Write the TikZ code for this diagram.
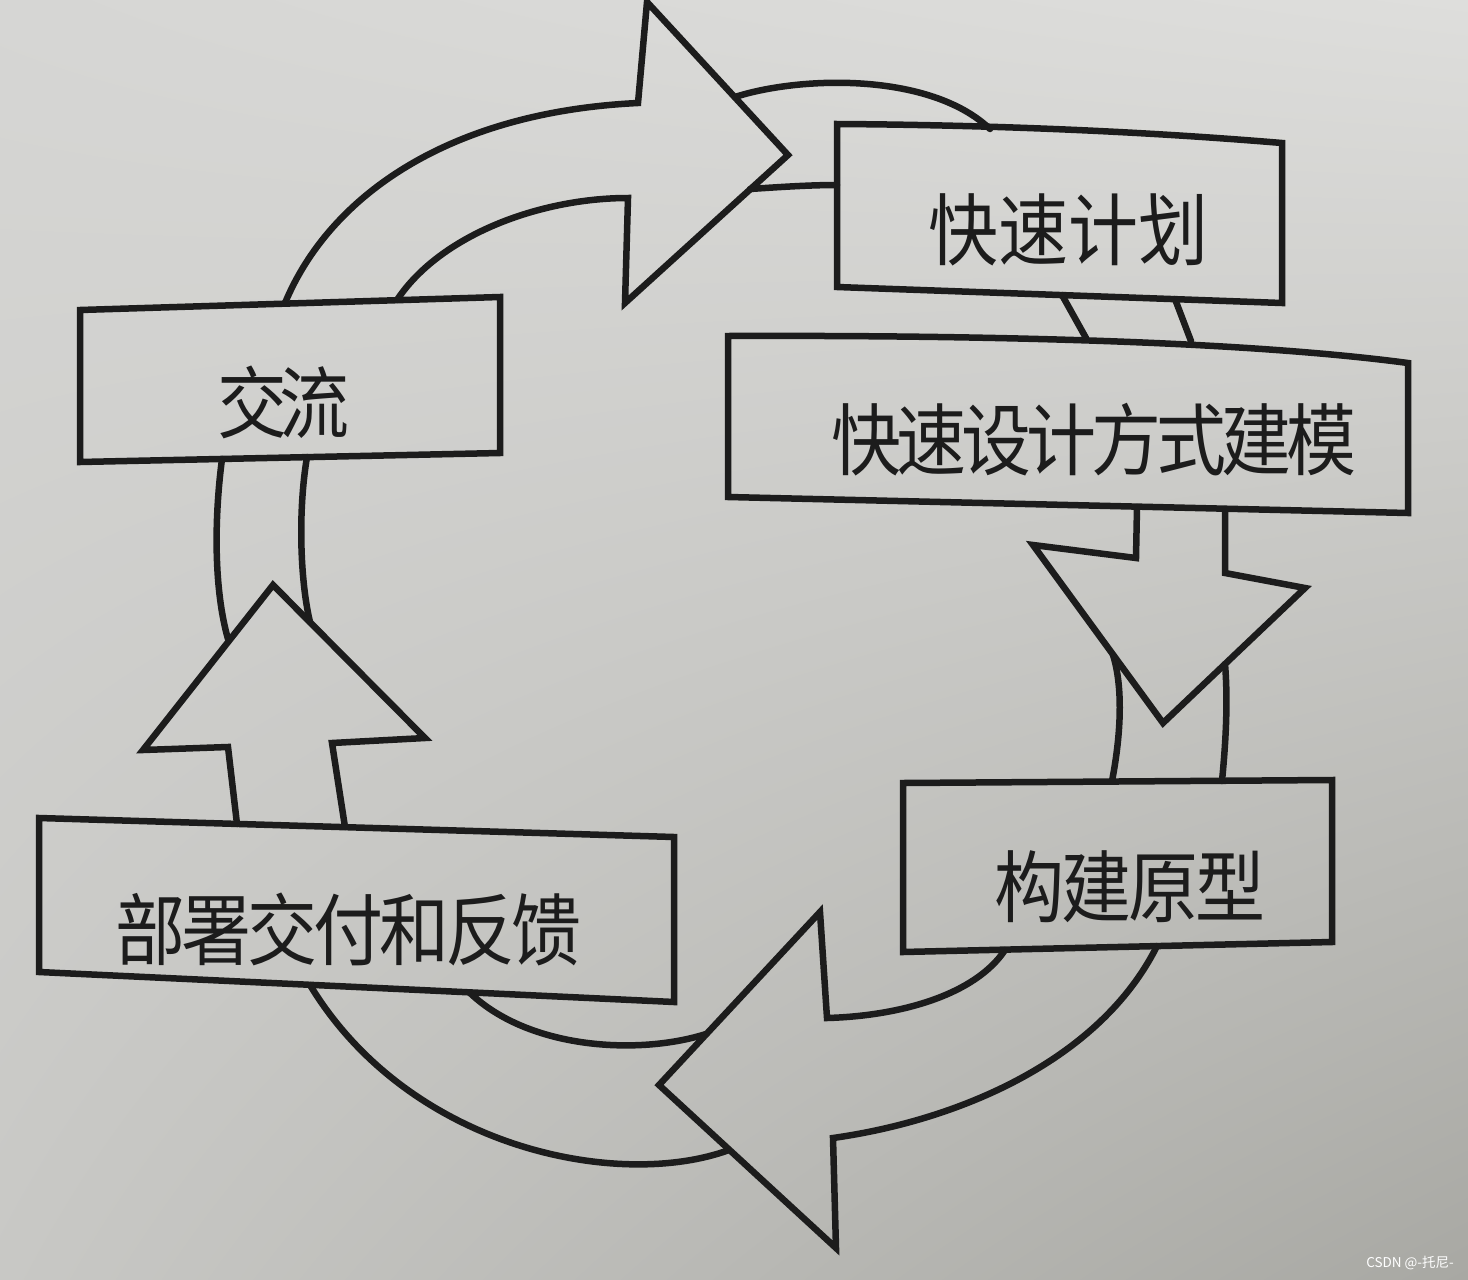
\documentclass[tikz,border=0pt]{standalone}
\usepackage{fontspec}
\usepackage{graphicx}
\usetikzlibrary{shadings}
\newfontfamily\cjk{Noto Sans CJK SC}
\definecolor{ink}{RGB}{28,28,28}
\definecolor{bgA}{RGB}{214,214,212}
\definecolor{bgB}{RGB}{222,222,220}
\definecolor{bgC}{RGB}{200,200,197}
\definecolor{bgD}{RGB}{168,168,163}
\begin{document}
\begin{tikzpicture}[x=1pt,y=-1pt,
  ln/.style={line width=6.5pt, draw=ink, line join=miter, line cap=round},
  boxline/.style={line width=6.5pt, draw=ink, line join=miter},
  lbl/.style={inner sep=0pt, text=ink, font=\cjk\fontsize{70}{70}\selectfont},
  wmark/.style={inner sep=0pt, text=white, font=\cjk\fontsize{13.5}{14}\selectfont}]
\useasboundingbox (0,0) rectangle (1468,1280);
\shade[upper left=bgA, upper right=bgB, lower left=bgC, lower right=bgD] (0,0) rectangle (1468,1280);

% ---- boxes ----
\draw[boxline] (837,124) .. controls (1000,125) and (1150,132) .. (1282,143) -- (1282,303) -- (837,287) -- cycle;
\draw[boxline] (728,336) .. controls (1000,335) and (1250,342) .. (1408,363) -- (1408,513) -- (728,497) -- cycle;
\draw[boxline] (903,783) -- (1332,780) -- (1332,942) -- (903,952) -- cycle;
\draw[boxline] (39,818) -- (674,837) -- (674,1002) -- (39,972) -- cycle;
\draw[boxline] (80,310) -- (500,297) -- (500,453) -- (80,462) -- cycle;

% ---- labels ----
\node[lbl] (plan) at (1068,230) {\scalebox{1}[1.12]{快速计划}};
\node[lbl] (design) at (1094,440) {\scalebox{1}[1.12]{快\kern-5pt速\kern-5pt设\kern-5pt计\kern-5pt方\kern-5pt式\kern-5pt建\kern-5pt模}};
\node[lbl] (proto) at (1130,887) {\scalebox{1}[1.12]{构\kern-3pt建\kern-3pt原\kern-3pt型}};
\node[lbl] (deploy) at (348,929) {\scalebox{1}[1.12]{部\kern-4pt署\kern-4pt交\kern-4pt付\kern-4pt和\kern-4pt反\kern-4pt馈}};
\node[lbl] (comm) at (283,402) {\scalebox{1}[1.12]{交\kern-8pt流}};

% ---- top arrow (交流 -> 快速计划) ----
\draw[ln] (285,303) .. controls (330,195) and (450,112) .. (638,103)
  -- (647,2) -- (788,155) -- (625,303) -- (628,198)
  .. controls (540,198) and (440,235) .. (397,300);
\draw[ln] (735,97) .. controls (800,76) and (930,72) .. (990,129);
\draw[ln] (750,189) .. controls (780,187) and (810,185) .. (837,185);

% ---- band between the two upper boxes ----
\draw[ln] (1062,295) -- (1086,338);
\draw[ln] (1175,299) -- (1191,341);

% ---- right arrow (down) ----
\draw[ln] (1137,507) -- (1136,558) -- (1033,545) -- (1163,723) -- (1305,588) -- (1225,573) -- (1225,509);
\draw[ln] (1113,655) .. controls (1124,690) and (1120,740) .. (1112,781);
\draw[ln] (1225,664) .. controls (1228,700) and (1226,740) .. (1222,781);

% ---- bottom arrow (left) ----
\draw[ln] (1005,950) .. controls (975,995) and (900,1016) .. (827,1018)
  -- (820,912) -- (659,1085) -- (836,1248) -- (833,1138)
  .. controls (960,1120) and (1100,1060) .. (1157,946);
\draw[ln] (706,1034) .. controls (640,1055) and (530,1050) .. (470,993);
\draw[ln] (729,1150) .. controls (620,1190) and (410,1150) .. (310,985);

% ---- left arrow (up) ----
\draw[ln] (237,824) -- (228,747) -- (143,750) -- (273,585) -- (425,738) -- (332,743) -- (345,827);
\draw[ln] (228,639) .. controls (214,590) and (214,520) .. (222,459);
\draw[ln] (310,622) .. controls (300,580) and (298,510) .. (307,457);

% ---- watermark ----
\node[wmark] (wm) at (1410,1263) {CSDN @-托尼-};
\end{tikzpicture}
\end{document}
